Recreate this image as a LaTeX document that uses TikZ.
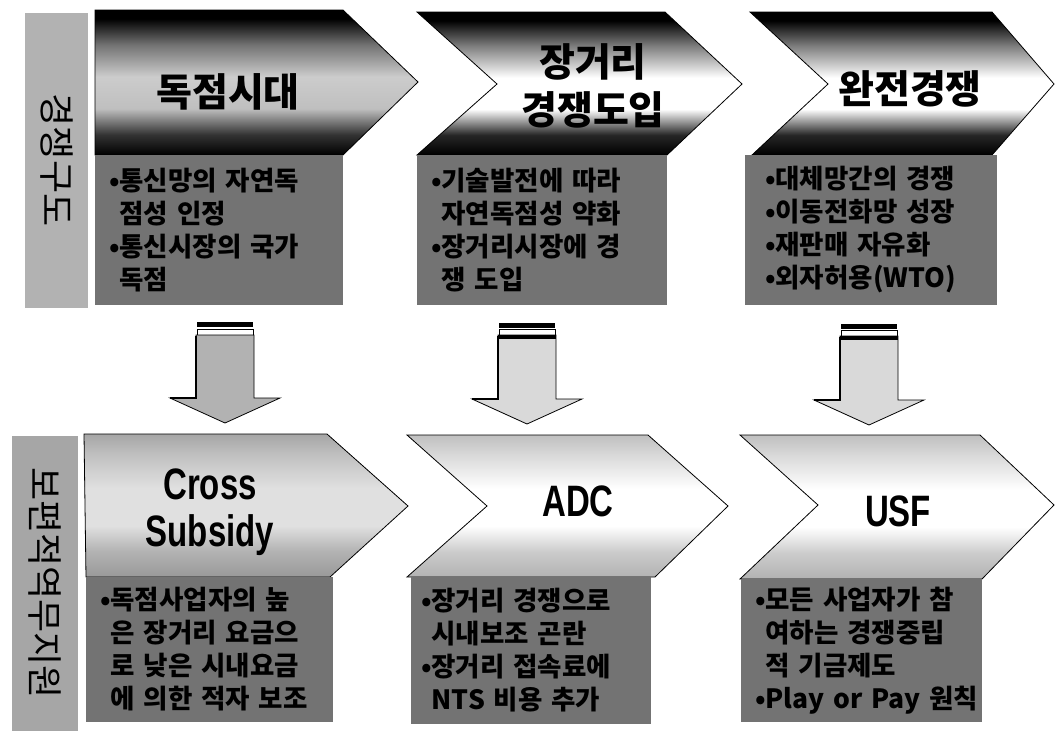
\documentclass[tikz,border=0pt]{standalone}
\usepackage{fontspec}
\setmainfont{Noto Sans CJK KR}
\newfontfamily\condfont[FakeStretch=0.75]{Liberation Sans}
\usetikzlibrary{positioning}

\pgfdeclareverticalshading{darkband}{100bp}{color(0bp)=(black); color(25bp)=(black); color(32bp)=(black!85); color(41bp)=(white); color(52bp)=(white); color(63bp)=(black!50); color(72bp)=(black); color(100bp)=(black)}
\pgfdeclareverticalshading{greyband}{100bp}{color(0bp)=(black); color(25bp)=(black); color(32bp)=(black!80); color(41bp)=(black!25); color(52bp)=(black!20); color(63bp)=(black!55); color(72bp)=(black); color(100bp)=(black)}
\pgfdeclareverticalshading{lightband}{100bp}{color(0bp)=(black!30); color(25bp)=(black!30); color(34bp)=(black!20); color(43bp)=(white); color(56bp)=(white); color(68bp)=(black!15); color(75bp)=(black!25); color(100bp)=(black!25)}
\pgfdeclareverticalshading{midband}{100bp}{color(0bp)=(black!40); color(25bp)=(black!40); color(34bp)=(black!30); color(43bp)=(black!12); color(56bp)=(black!12); color(68bp)=(black!25); color(75bp)=(black!35); color(100bp)=(black!35)}

\begin{document}
\begin{tikzpicture}[x=1pt, y=-1pt,
        chev/.style={draw=black, line width=0.8pt, shade},
        body/.style={fill=black!55, inner xsep=14pt, inner ysep=0pt, align=left, font=\fontsize{26.5}{33}\selectfont\bfseries},
        head/.style={align=center, font=\fontsize{39}{48}\selectfont\bfseries},
        latin/.style={align=center, font=\fontsize{44}{47}\selectfont\condfont\bfseries},
        side/.style={rotate=-90, inner sep=0pt, font=\fontsize{36}{36}\selectfont},
        downarrow/.style={draw=black, line width=0.8pt}
    ]
        \useasboundingbox (0,0) rectangle (1055,732);

        % side labels
        \node[side, fill=black!30, minimum width=295pt, minimum height=63pt] (s1) at (56.5,160) {경쟁구도};
        \node[side, fill=black!35, minimum width=295pt, minimum height=66pt] (s2) at (45,583) {보편적역무지원};

        % upper row
        \path[chev, shading=greyband] (95,10) -- (343,10) -- (418,82) -- (343,155) -- (95,155) -- cycle;
        \path[chev, shading=darkband] (417,12) -- (665,12) -- (742,84) -- (667,155) -- (417,155) -- (497,84) -- cycle;
        \path[chev, shading=darkband] (750,12) -- (992,12) -- (1054,84) -- (992,155) -- (752,155) -- (828,84) -- cycle;

        \node[head] (t1) at (228,92) {독점시대};
        \node[head] (t2) at (593,86) {장거리\\경쟁도입};
        \node[head] (t3) at (910,89) {완전경쟁};

        \node[body, text width=220pt, minimum height=150pt] (c1) at (219,230) {•통신망의~자연독\\\phantom{•}점성~인정\\•통신시장의~국가\\\phantom{•}독점};
        \node[body, text width=222pt, minimum height=150pt] (c2) at (542,230) {•기술발전에~따라\\\phantom{•}자연독점성~약화\\•장거리시장에~경\\\phantom{•}쟁~도입};
        \node[body, text width=212pt, minimum height=150pt, inner xsep=20pt] (c3) at (871,230) {•대체망간의~경쟁\\•이동전화망~성장\\•재판매~자유화\\•외자허용(WTO)};

        % down arrows
        \fill (197,322) rectangle (253,327);
        \draw[fill=white, line width=0.8pt] (197,329) rectangle (253,335);
        \draw[downarrow, fill=black!30] (196,335) -- (254,335) -- (254,398) -- (280,398) -- (225,423) -- (170,398) -- (196,398) -- cycle;
        \draw[line width=2.5pt] (196,336) -- (196,398) -- (170,398);

        \fill (499,323) rectangle (555,328);
        \draw[fill=white, line width=0.8pt] (499,329) rectangle (555,335);
        \draw[downarrow, fill=black!15] (498,335) -- (556,335) -- (556,399) -- (582,399) -- (527,424) -- (472,399) -- (498,399) -- cycle;
        \draw[line width=4pt] (498,337) -- (556,337);
        \draw[line width=2.5pt] (498,336) -- (498,399) -- (472,399);

        \fill (841,324) rectangle (897,329);
        \draw[fill=white, line width=0.8pt] (841,330) rectangle (897,336);
        \draw[downarrow, fill=black!15] (840,336) -- (898,336) -- (898,400) -- (924,400) -- (869,425) -- (814,400) -- (840,400) -- cycle;
        \draw[line width=4pt] (840,338) -- (898,338);
        \draw[line width=2.5pt] (840,337) -- (840,400) -- (814,400);

        % lower row
        \path[chev, shading=midband] (84,434) -- (327,434) -- (408,506) -- (330,577) -- (86,577) -- cycle;
        \path[chev, shading=lightband] (407,435) -- (648,435) -- (728,506) -- (655,577) -- (407,577) -- (487,506) -- cycle;
        \path[chev, shading=lightband] (740,435) -- (980,435) -- (1054,505) -- (982,579) -- (740,579) -- (818,505) -- cycle;

        \node[latin] (t4) at (210,512) {Cross\\Subsidy};
        \node[latin] (t5) at (578,501) {ADC};
        \node[latin] (t6) at (898,511) {USF};

        \node[body, text width=219pt, minimum height=145pt] (c4) at (209.5,649.5) {•독점사업자의~높\\\phantom{•}은~장거리~요금으\\\phantom{•}로~낮은~시내요금\\\phantom{•}에~의한~적자~보조};
        \node[body, text width=220pt, minimum height=147pt, inner xsep=10pt] (c5) at (531,650.5) {•장거리~경쟁으로\\\phantom{•}시내보조~곤란\\•장거리~접속료에\\\phantom{•}NTS~비용~추가};
        \node[body, text width=213pt, minimum height=143pt] (c6) at (861.5,650.5) {•모든~사업자가~참\\\phantom{•}여하는~경쟁중립\\\phantom{•}적~기금제도\\•Play~or~Pay~원칙};
    \end{tikzpicture}
\end{document}
